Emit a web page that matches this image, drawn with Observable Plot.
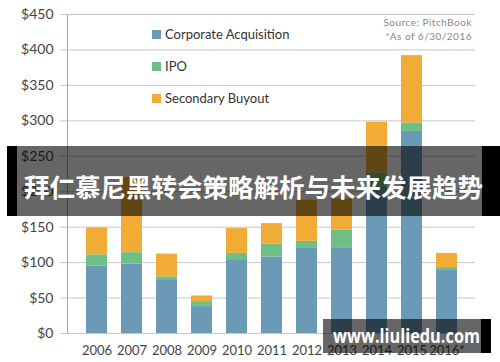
<!DOCTYPE html>
<html>
<head>
<meta charset="utf-8">
<script src="https://cdn.jsdelivr.net/npm/d3@7"></script>
<script src="https://cdn.jsdelivr.net/npm/@observablehq/plot@0.6"></script>
<style>
  html, body { margin: 0; padding: 0; background: #fff; }
  #wrap { position: relative; width: 500px; height: 362px; overflow: hidden; font-family: Lato, "Open Sans", sans-serif; }
  #legend { position: absolute; left: 152px; top: 26px; font-size: 13px; color: #333; }
  #legend .item { display: flex; align-items: center; height: 16px; margin-bottom: 16px; }
  #legend .sw { width: 9px; height: 9px; margin-right: 4px; }
  #source { position: absolute; right: 28px; top: 15px; text-align: right; font-size: 10px; line-height: 14px; color: #888; letter-spacing: 0.5px; }
  #banner { position: absolute; left: 7px; top: 146px; width: 493px; height: 70px;
    background: linear-gradient(to right, #000 0, #000 10px, rgba(0,0,0,0.6) 10px, rgba(0,0,0,0.6) 475px, #000 475px, #000 100%);
    color: #fff; font-family: "Noto Sans CJK SC", sans-serif; font-weight: bold; font-size: 25.5px;
    display: flex; align-items: center; justify-content: center; padding-top: 8px; box-sizing: border-box; white-space: nowrap; }
  #watermark { position: absolute; left: 323px; top: 319px; width: 168px; height: 34px;
    background: linear-gradient(to right, rgba(0,0,0,0.6) 0, rgba(0,0,0,0.6) 158px, #000 158px, #000 100%);
    color: #fff; font-family: "Open Sans", sans-serif; font-weight: bold; font-size: 20px;
    box-sizing: border-box; line-height: 34px; white-space: nowrap; }
  #watermark span { position: absolute; left: 10px; top: 0; display: inline-block; transform-origin: 0 50%; }
</style>
</head>
<body>
<div id="wrap"></div>
<script>
const years = ["2006","2007","2008","2009","2010","2011","2012","2013","2014","2015","2016*"];
const corporate = [95, 98, 76, 38, 103, 108, 121, 120, 206, 285, 90];
const ipo       = [16, 16, 4, 7, 10, 18, 9, 26, 20, 12, 3];
const secondary = [38, 106, 32, 8, 35, 29, 58, 44, 72, 95, 20];
const types = ["Corporate Acquisition", "IPO", "Secondary Buyout"];
const colors = ["#6b9ab7", "#6dbf86", "#f0ac35"];
const yTicks = [0, 50, 100, 150, 200, 250, 300, 350, 400, 450];
const sourceLines = ["Source: PitchBook", "*As of 6/30/2016"];
const bannerText = "拜仁慕尼黑转会策略解析与未来发展趋势";
const watermarkText = "www.liuliedu.com";

const series = [corporate, ipo, secondary];
const data = [];
years.forEach((yr, i) => {
  types.forEach((t, j) => data.push({year: yr, type: t, value: series[j][i]}));
});

const chart = Plot.plot({
  width: 500,
  height: 362,
  marginLeft: 67,
  marginRight: 25,
  marginTop: 14,
  marginBottom: 29,
  style: {fontFamily: "Lato, 'Open Sans', sans-serif", background: "#fff"},
  x: {domain: years, padding: 0.4, label: null},
  y: {domain: [0, 450], label: null},
  color: {domain: types, range: colors},
  marks: [
    Plot.gridY(yTicks, {stroke: "#c8c8c8", strokeOpacity: 1}),
    Plot.axisY(yTicks, {tickFormat: d => "$" + d, tickSize: 7, tickPadding: 7, fontSize: 14, fill: "#444", stroke: "#c8c8c8", strokeOpacity: 1, label: null}),
    Plot.axisX({tickSize: 0, tickPadding: 12, fontSize: 13, fill: "#444", label: null}),
    Plot.barY(data, {x: "year", y: "value", fill: "type", order: types}),
    Plot.frame({anchor: "left", stroke: "#a8a8a8"})
  ]
});
const wrap = document.getElementById("wrap");
wrap.appendChild(chart);

const legend = document.createElement("div");
legend.id = "legend";
types.forEach((t, j) => {
  const it = document.createElement("div");
  it.className = "item";
  const sw = document.createElement("div");
  sw.className = "sw";
  sw.style.background = colors[j];
  const lb = document.createElement("span");
  lb.textContent = t;
  it.appendChild(sw); it.appendChild(lb);
  legend.appendChild(it);
});
wrap.appendChild(legend);

const src = document.createElement("div");
src.id = "source";
src.innerHTML = sourceLines.join("<br>");
wrap.appendChild(src);

const banner = document.createElement("div");
banner.id = "banner";
banner.textContent = bannerText;
wrap.appendChild(banner);

const wm = document.createElement("div");
wm.id = "watermark";
const wmSpan = document.createElement("span");
wmSpan.textContent = watermarkText;
wm.appendChild(wmSpan);
wrap.appendChild(wm);
const w = wmSpan.getBoundingClientRect().width;
if (w > 0) wmSpan.style.transform = `scaleX(${147 / w})`;
</script>
</body>
</html>
